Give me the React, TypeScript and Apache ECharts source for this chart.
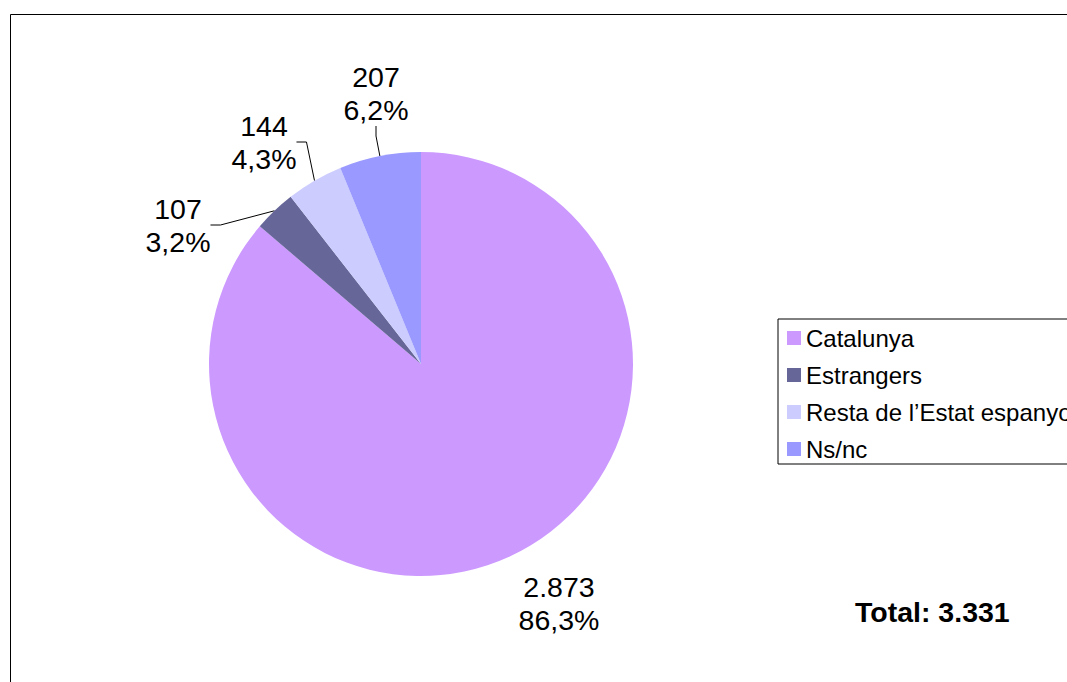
import React, { useEffect, useRef } from "react";
import * as echarts from "echarts";

const categories = ["Catalunya", "Estrangers", "Resta de l’Estat espanyol", "Ns/nc"];
const values = [2873, 107, 144, 207];
const colors = ["#CC99FF", "#666699", "#CCCCFF", "#9999FF"];
// label anchor centres (layout only)
const labelCenters = [
  [559, 603],
  [178, 225],
  [264, 142],
  [376, 93],
];

const FONT = "'Liberation Sans', Arial, sans-serif";

function fmtThousands(v: number): string {
  return String(v).replace(/\B(?=(\d{3})+(?!\d))/g, ".");
}

export default function App() {
  const ref = useRef<HTMLDivElement>(null);
  useEffect(() => {
    if (!ref.current) return;
    const chart = echarts.init(ref.current, null, { renderer: "svg" });
    const total = values.reduce((a, b) => a + b, 0);
    const data = categories.map((name, i) => ({
      name,
      value: values[i],
      itemStyle: { color: colors[i] },
      labelLine: { show: i !== 0 },
    }));
    chart.setOption({
      animation: false,
      backgroundColor: "#fff",
      legend: {
        orient: "vertical",
        left: 778,
        top: 319,
        data: categories,
        icon: "rect",
        itemWidth: 14,
        itemHeight: 14,
        itemGap: 9,
        padding: [5, 10, 1, 9],
        borderColor: "#000",
        borderWidth: 1,
        textStyle: { fontSize: 24, lineHeight: 28, color: "#000", fontFamily: FONT },
      },
      graphic: [
        {
          type: "rect",
          shape: { x: 10.5, y: 14.5, width: 1200, height: 800 },
          style: { fill: "none", stroke: "#000", lineWidth: 1 },
          silent: true,
        },
        {
          type: "text",
          x: 855,
          y: 612,
          style: {
            text: "Total: " + fmtThousands(total),
            font: "bold 28.5px " + FONT,
            fill: "#000",
            textAlign: "left",
            textVerticalAlign: "middle",
          },
        },
      ],
      series: [
        {
          type: "pie",
          center: [421, 364],
          radius: 212,
          startAngle: 90,
          clockwise: true,
          avoidLabelOverlap: false,
          data,
          label: {
            show: true,
            position: "outside",
            formatter: (p: any) =>
              fmtThousands(p.value) + "\n" + ((p.value / total) * 100).toFixed(1).replace(".", ",") + "%",
            fontSize: 28.5,
            lineHeight: 33,
            color: "#000",
            fontFamily: FONT,
            align: "center",
          },
          labelLine: {
            show: true,
            length: 10,
            length2: 10,
            lineStyle: { color: "#000", width: 1 },
          },
          labelLayout: (params: any) => {
            const c = labelCenters[params.dataIndex];
            return { x: c[0], y: c[1], align: "center", verticalAlign: "middle" };
          },
          emphasis: { disabled: true },
        },
      ],
    });
    return () => chart.dispose();
  }, []);
  return (
    <div
      ref={ref}
      style={{ position: "fixed", left: 0, top: 0, width: 1067, height: 682 }}
    />
  );
}
